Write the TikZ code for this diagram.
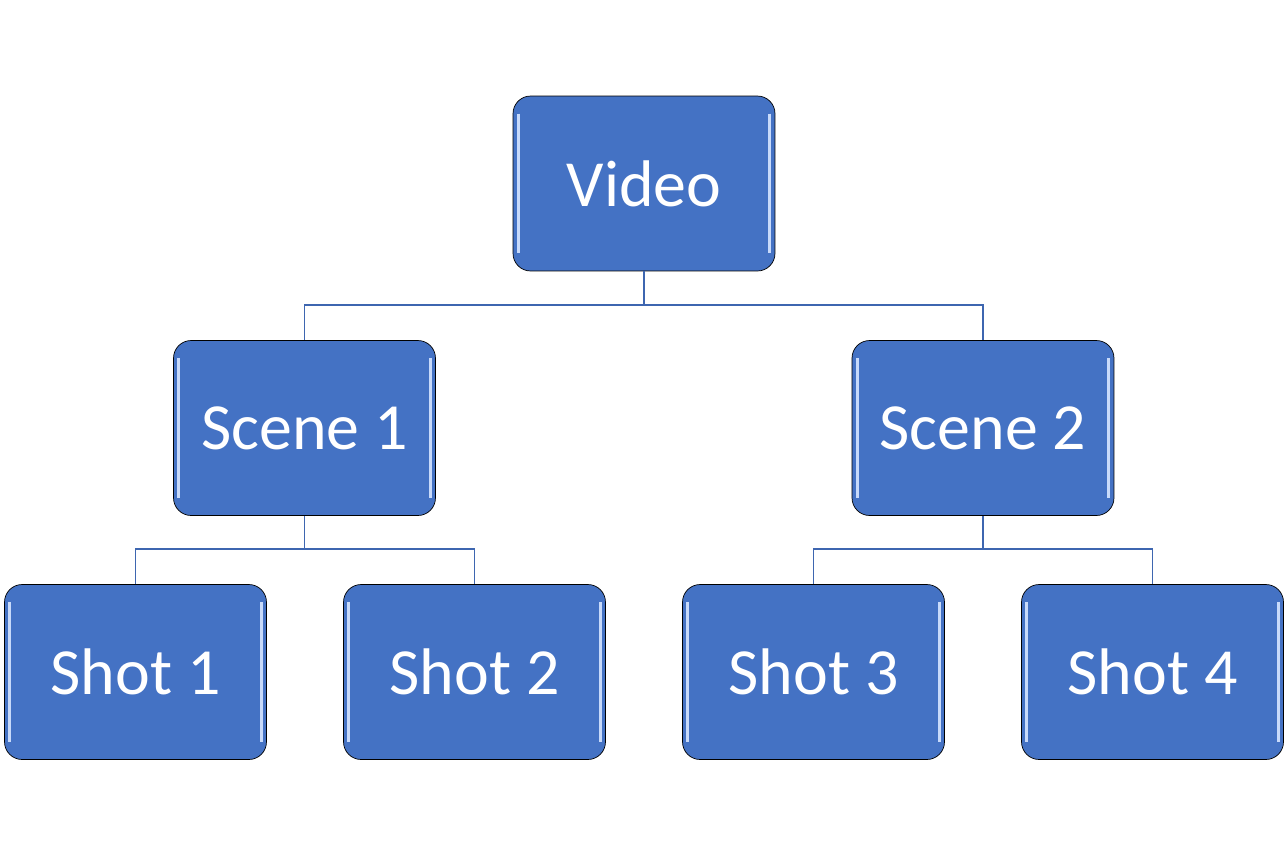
\documentclass[tikz,border=0pt]{standalone}
\usepackage{fontspec}
\setmainfont{Carlito}
\usetikzlibrary{positioning}
\definecolor{vblue}{RGB}{68,114,196}
\definecolor{vline}{RGB}{62,102,176}
\definecolor{vshine}{RGB}{200,218,250}
\tikzset{
  unit/.style={rectangle,rounded corners=10pt,draw=black,thin,fill=vblue,text=white,
    minimum width=5.24cm,minimum height=3.5cm,font=\fontsize{37.5}{45}\selectfont,
    path picture={
      \draw[vshine,line width=1.8pt] ([xshift=3pt,yshift=-10pt]path picture bounding box.north west) -- ([xshift=3pt,yshift=10pt]path picture bounding box.south west);
      \draw[vshine,line width=1.8pt] ([xshift=-3pt,yshift=-10pt]path picture bounding box.north east) -- ([xshift=-3pt,yshift=10pt]path picture bounding box.south east);
    }},
  link/.style={draw=vline,line width=1.1pt}
}
\begin{document}
\begin{tikzpicture}[x=0.02cm,y=-0.02cm]
\useasboundingbox (0,0) rectangle (1288,856);
\draw (644,183.5) node[unit] (video) {Video};

\draw (304.5,428) node[unit] (scene1) {Scene 1};
\draw (983,428) node[unit] (scene2) {Scene 2};

\draw (135.5,672) node[unit] (shot1) {Shot 1};
\draw (474.5,672) node[unit] (shot2) {Shot 2};
\draw (813.5,672) node[unit] (shot3) {Shot 3};
\draw (1152.5,672) node[unit] (shot4) {Shot 4};

\node[shape=coordinate] (vjoin) at (644,305) {};
\draw[link] (video.south) -- (vjoin);
\draw[link] (vjoin) -| (scene1.north);
\draw[link] (vjoin) -| (scene2.north);

\node[shape=coordinate] (sjoin1) at (304.5,549) {};
\draw[link] (scene1.south) -- (sjoin1);
\draw[link] (sjoin1) -| (shot1.north);
\draw[link] (sjoin1) -| (shot2.north);

\node[shape=coordinate] (sjoin2) at (983,549) {};
\draw[link] (scene2.south) -- (sjoin2);
\draw[link] (sjoin2) -| (shot3.north);
\draw[link] (sjoin2) -| (shot4.north);
\end{tikzpicture}
\end{document}
